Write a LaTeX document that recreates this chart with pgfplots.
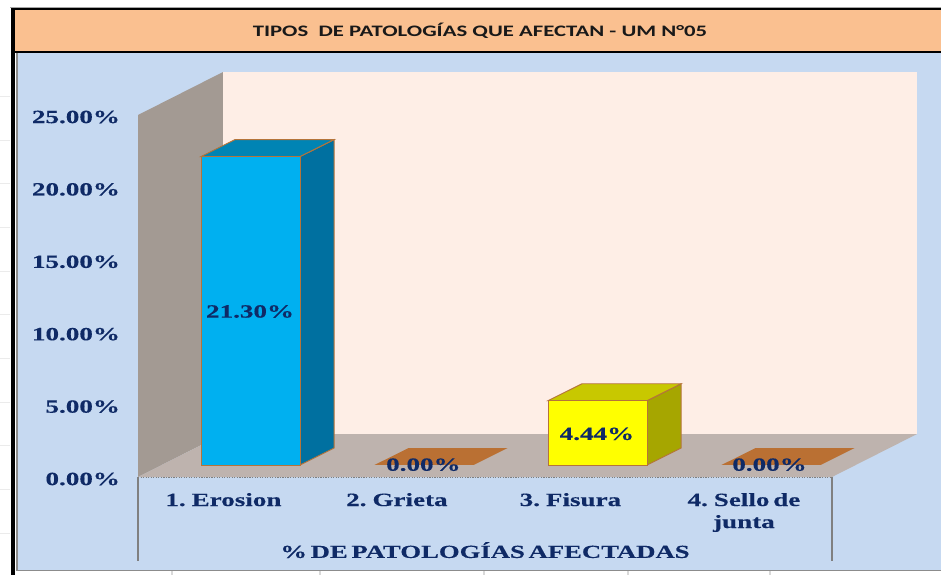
\documentclass[border=0pt]{standalone}
\usepackage{pgfplots}
\pgfplotsset{compat=1.18}
\usepackage{fontspec}
\setmainfont{Liberation Serif}[FakeStretch=1.45,WordSpace=0.55,BoldFeatures={FakeBold=0.25}]
\newfontfamily\titlefont{Carlito}[FakeStretch=1.42]
\definecolor{navy}{HTML}{0F2A66}
\definecolor{chartbg}{HTML}{C6D9F1}
\definecolor{band}{HTML}{FAC090}
\definecolor{wallL}{HTML}{A39A93}
\definecolor{wallB}{HTML}{FEEEE6}
\definecolor{floorc}{HTML}{BEB3AE}
\definecolor{edge}{HTML}{B5743A}
\definecolor{flat}{HTML}{BA7033}
\definecolor{yel}{HTML}{FFFF00}
\begin{document}
\begin{tikzpicture}
\begin{scope}[x=0.75pt,y=-0.75pt]
\fill[white] (0,0) rectangle (941,575);
% faint sheet gridlines
\foreach \yy in {96,140,183,227,271,314,358,402,445,489,533}
  \draw[black!8,line width=0.6pt] (0,\yy) -- (10,\yy);
\foreach \xx in {172,320,484,628,770}
  \draw[black!15,line width=0.8pt] (\xx,571) -- (\xx,575);
% chart area
\fill[chartbg] (17,53) rectangle (941,570);
\draw[black!45,line width=1.2pt] (17,53) -- (17,570.5) -- (941,570.5);
% black frame + title band
\fill[band] (12,9) rectangle (941,52);
\draw[black!35,line width=0.6pt] (10,7) -- (941,7);
\draw[black,line width=1.4pt] (941,9) -- (12,9) -- (12,52) -- (941,52);
\fill[black] (11,9) rectangle (15,575);
\node[font=\titlefont\bfseries\fontsize{12pt}{13pt}\selectfont,text=black!90] at (480,31) {TIPOS\ \ DE PATOLOGÍAS QUE AFECTAN - UM N°05};
\end{scope}
\begin{axis}[
  at={(103.5pt,-357.75pt)},anchor=south west,
  x=130.125pt,y=10.86pt,
  xmin=0,xmax=4.49,ymin=0,ymax=27.97,
  clip=false,
  axis line style={draw=none},
  major tick length=0pt,
  xtick={0.5,1.5,2.5,3.5},
  xticklabels={1. Erosion,2. Grieta,3. Fisura,{4. Sello de\\junta}},
  ytick={0,5,10,15,20,25},
  yticklabels={0.00\%,5.00\%,10.00\%,15.00\%,20.00\%,25.00\%},
  tick label style={font=\bfseries\fontsize{14pt}{16.5pt}\selectfont,text=navy},
  xticklabel style={align=center,anchor=north,yshift=-8.5pt,xshift=-1pt},
  yticklabel style={anchor=east,xshift=-10pt,yshift=-1.5pt},
  xlabel={\% DE PATOLOGÍAS AFECTADAS},
  xlabel style={at={(axis cs:2,-5.05)},anchor=center,font=\bfseries\fontsize{13.8pt}{15pt}\selectfont,text=navy},
  nodes near coords style={anchor=center,font=\bfseries\fontsize{14pt}{16pt}\selectfont,text=navy},
]
% walls and floor
\addplot[fill=wallL,draw=none] coordinates {(0,0)(0,25)(0.49,27.97)(0.49,2.97)} --cycle;
\addplot[fill=wallB,draw=none] coordinates {(0.49,2.97)(0.49,27.97)(4.49,27.97)(4.49,2.97)} --cycle;
\addplot[fill=floorc,draw=none] coordinates {(0,0)(0.49,2.97)(4.49,2.97)(4,0)} --cycle;
% front frame lines
\addplot[black!50,line width=1.4pt] coordinates {(0,-5.8)(0,0)};
\addplot[black!50,line width=1.4pt] coordinates {(4,-5.8)(4,0)};
\addplot[black!50,line width=0.9pt,densely dotted] coordinates {(0,-0.05)(4,-0.05)};
% bar 1: 21.30
\addplot[fill={rgb,255:red,0;green,112;blue,160},draw=edge,line width=0.7pt] coordinates {(0.934,0.83)(1.13,2.0)(1.13,23.30)(0.934,22.13)} --cycle;
\addplot[fill={rgb,255:red,0;green,132;blue,180},draw=edge,line width=0.7pt] coordinates {(0.363,22.13)(0.934,22.13)(1.13,23.30)(0.559,23.30)} --cycle;
\addplot[fill={rgb,255:red,0;green,176;blue,240},draw=edge,line width=0.7pt] coordinates {(0.363,0.83)(0.934,0.83)(0.934,22.13)(0.363,22.13)} --cycle;
% bar 2: 0.00
\addplot[fill=flat,draw=none] coordinates {(1.363,0.83)(1.934,0.83)(2.13,2.0)(1.559,2.0)} --cycle;
% bar 3: 4.44
\addplot[fill={rgb,255:red,166;green,166;blue,0},draw=edge,line width=0.7pt] coordinates {(2.934,0.83)(3.13,2.0)(3.13,6.44)(2.934,5.27)} --cycle;
\addplot[fill={rgb,255:red,200;green,200;blue,0},draw=edge,line width=0.7pt] coordinates {(2.363,5.27)(2.934,5.27)(3.13,6.44)(2.559,6.44)} --cycle;
\addplot[fill=yel,draw=edge,line width=0.7pt] coordinates {(2.363,0.83)(2.934,0.83)(2.934,5.27)(2.363,5.27)} --cycle;
% bar 4: 0.00
\addplot[fill=flat,draw=none] coordinates {(3.363,0.83)(3.934,0.83)(4.13,2.0)(3.559,2.0)} --cycle;
% value labels
\addplot[draw=none,nodes near coords,point meta=explicit symbolic] coordinates {
  (0.646,11.43)[21.30\%]
  (1.645,0.85)[0.00\%]
  (2.645,2.98)[4.44\%]
  (3.64,0.85)[0.00\%]
};
\end{axis}
\pgfresetboundingbox
\path[use as bounding box] (0pt,0pt) rectangle (705.75pt,-431.25pt);
\end{tikzpicture}
\end{document}
